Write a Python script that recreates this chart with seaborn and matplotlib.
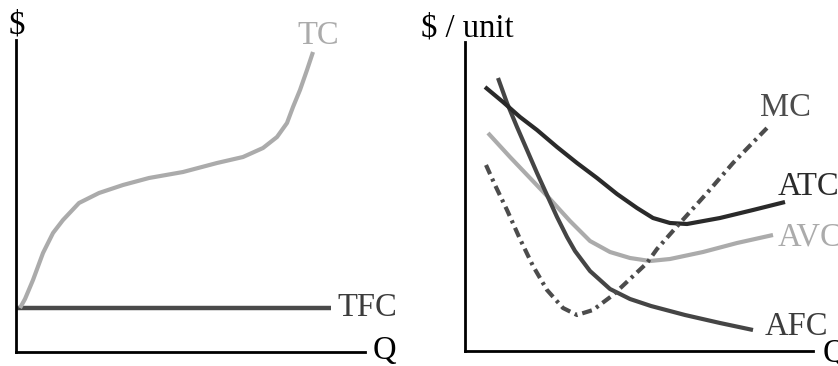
import matplotlib
matplotlib.use("Agg")
import matplotlib.pyplot as plt
import seaborn as sns
import pandas as pd

# ---- Total cost panel (Q, $) ----
tc_q = [4, 9, 17, 27, 37, 47, 63, 83, 107, 133, 167, 201, 227, 247, 261, 271, 277, 284, 291, 297]
tc_cost = [44, 53, 72, 99, 119, 132, 149, 159, 167, 174, 180, 189, 195, 204, 215, 229, 245, 262, 282, 300]
tfc_q = [0, 315]
tfc_cost = [44, 44]

# ---- Per-unit cost panel (Q, $ / unit) ----
atc_q = [20, 38, 55, 72, 92, 112, 132, 152, 172, 188, 205, 222, 255, 288, 320]
atc_cost = [264, 249, 234, 221, 204, 188, 173, 157, 143, 133, 128, 127, 133, 141, 149]
avc_q = [23, 45, 65, 85, 105, 125, 145, 165, 185, 205, 238, 272, 308]
avc_cost = [218, 194, 173, 152, 130, 110, 99, 93, 90, 92, 99, 108, 116]
afc_q = [33, 42, 52, 62, 72, 82, 92, 102, 110, 125, 145, 165, 186, 220, 255, 288]
afc_cost = [273, 248, 224, 201, 178, 156, 134, 114, 100, 80, 62, 52, 45, 36, 28, 21]
mc_q = [21, 30, 42, 55, 68, 82, 98, 112, 128, 148, 165, 182, 192, 215, 242, 268, 302]
mc_cost = [186, 166, 141, 112, 85, 61, 43, 36, 41, 56, 72, 88, 102, 128, 158, 188, 223]

sns.set_theme(style="white")
plt.rcParams["font.family"] = ["Liberation Serif", "DejaVu Serif"]
plt.rcParams["lines.scale_dashes"] = False

W, H = 838, 366
fig = plt.figure(figsize=(W / 100, H / 100), dpi=100)

LIGHT = "#ababab"
DARK = "#454545"
DARKER = "#2a2a2a"
FS = 23.5


def frame(ax, xmax, ymax):
    ax.set_xlim(0, xmax)
    ax.set_ylim(0, ymax)
    for s in ("top", "right"):
        ax.spines[s].set_visible(False)
    for s in ("left", "bottom"):
        ax.spines[s].set_color("black")
        ax.spines[s].set_linewidth(2.0)
    ax.set_xticks([])
    ax.set_yticks([])
    ax.set_xlabel("")
    ax.set_ylabel("")
    ax.patch.set_alpha(0)


def curve(ax, q, c, color, lw=3.0, dashes=None):
    df = pd.DataFrame({"Q": q, "cost": c})
    sns.lineplot(data=df, x="Q", y="cost", ax=ax, sort=False, color=color,
                 linewidth=lw, solid_capstyle="butt", solid_joinstyle="round")
    line = ax.lines[-1]
    if dashes is not None:
        line.set_dashes(dashes)
        line.set_dash_capstyle("butt")
        line.set_dash_joinstyle("round")


# Left panel: total and fixed cost
ax1 = fig.add_axes([16 / W, (H - 352) / H, (365 - 16) / W, (352 - 40) / H])
curve(ax1, tfc_q, tfc_cost, "#4a4a4a", lw=3.2)
curve(ax1, tc_q, tc_cost, LIGHT, lw=3.0)
frame(ax1, 349, 312)
kw = dict(fontsize=FS, va="center", clip_on=False)
ax1.text(1, 327, "$", ha="center", color="black", **kw)
ax1.text(357, 1, "Q", ha="left", color="black", **kw)
ax1.text(321, 44, "TFC", ha="left", color="#3c3c3c", **kw)
ax1.text(281, 316, "TC", ha="left", color=LIGHT, **kw)

# Right panel: average and marginal cost
ax2 = fig.add_axes([465 / W, (H - 351) / H, (813 - 465) / W, (351 - 42) / H])
curve(ax2, avc_q, avc_cost, LIGHT, lw=3.0)
curve(ax2, afc_q, afc_cost, DARK, lw=3.0)
curve(ax2, atc_q, atc_cost, DARKER, lw=3.0)
curve(ax2, mc_q, mc_cost, "#4c4c4c", lw=3.0, dashes=(7.2, 3.6, 2.2, 3.6))
frame(ax2, 348, 309)
ax2.text(-44, 323, "$ / unit", ha="left", color="black", **kw)
ax2.text(295, 243, "MC", ha="left", color="#4c4c4c", **kw)
ax2.text(313, 164, "ATC", ha="left", color=DARKER, **kw)
ax2.text(313, 114, "AVC", ha="left", color=LIGHT, **kw)
ax2.text(300, 24, "AFC", ha="left", color="#3c3c3c", **kw)
ax2.text(358, -3, "Q", ha="left", color="black", **kw)

fig.savefig("out.png", dpi=100)
